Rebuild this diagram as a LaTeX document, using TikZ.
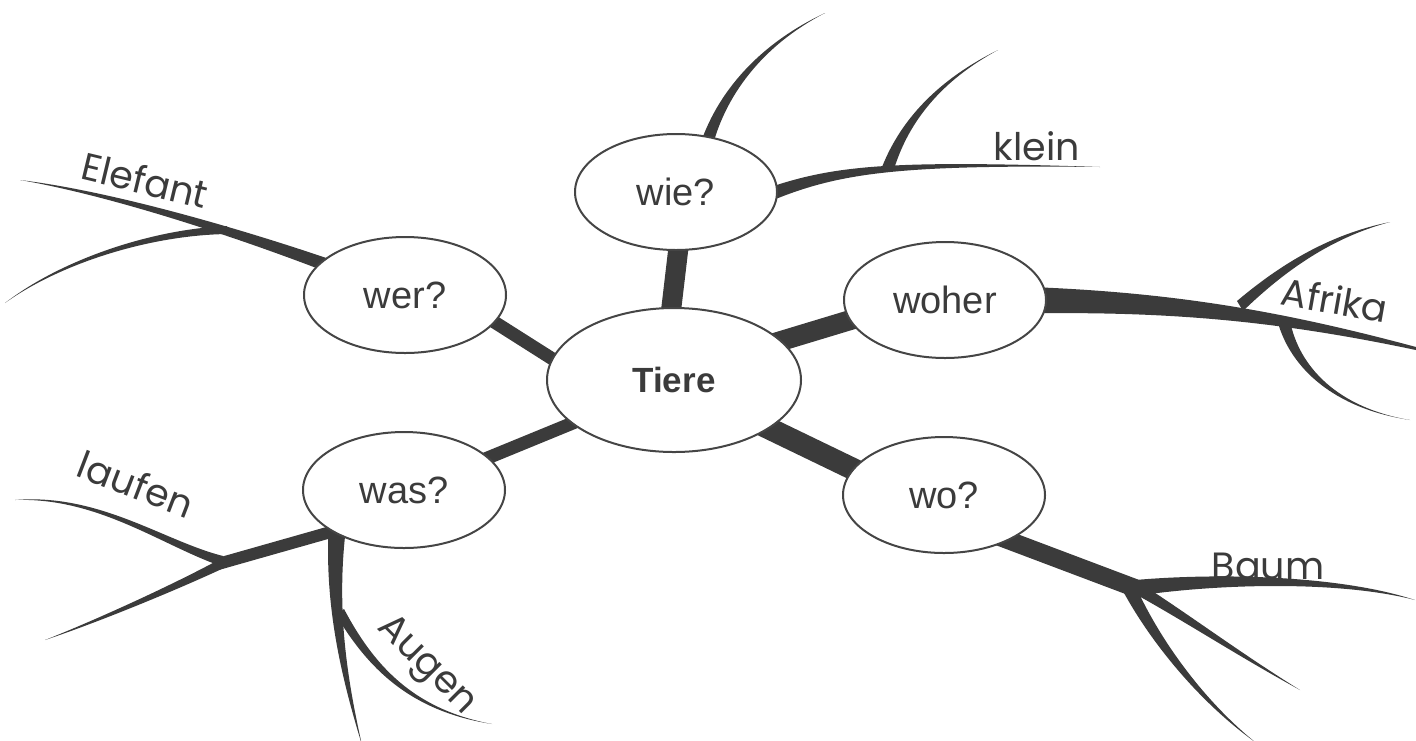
\documentclass[tikz,border=0pt]{standalone}
\usepackage{fontspec}
\setmainfont{Liberation Sans}
\newfontfamily\handfont{Poppins}
\usetikzlibrary{shapes.geometric,backgrounds,calc}
\definecolor{cink}{HTML}{3B3B3B}
\definecolor{cline}{HTML}{454545}
% tapered branch: start, control 1, control 2, tip, half width at start
\newcommand{\twig}[5]{%
  \fill[cink] ($#1+#5$) .. controls ($#2+0.67*#5$) and ($#3+0.33*#5$) .. #4
    .. controls ($#3-0.33*#5$) and ($#2-0.67*#5$) .. ($#1-#5$) -- cycle;}

\begin{document}
\begin{tikzpicture}[x=0.5pt, y=-0.5pt,
  frage/.style={ellipse, draw=cline, line width=1pt, fill=white, minimum width=101pt, minimum height=58pt, inner sep=0pt, text=cink, font=\fontsize{19}{22}\selectfont},
  stem/.style={draw=cink, shorten <=-6pt, shorten >=-6pt},
  wort/.style={text=cink, inner sep=0pt, font=\handfont\fontsize{19}{22}\selectfont}]
  \useasboundingbox (0,0) rectangle (1416,740);
  \node[frage, minimum width=127pt, minimum height=72pt, font=\bfseries\fontsize{17.5}{20}\selectfont] (tiere) at (674,380) {Tiere};
  \foreach \n/\t/\x/\y in {wer/wer?/405/295, wie/wie?/676/192, woher/woher/945/300, was/was?/404/490, wo/wo?/944/495}
    {\node[frage] (\n) at (\x,\y) {\t};}
  % labels along the branches
  \node[wort, rotate=-13.5] (elefant) at (145,180) {Elefant};
  \node[wort, rotate=-21] (laufen) at (136,484) {laufen};
  \node[wort, rotate=-45] (augen) at (426,666) {Augen};
  \node[wort] (klein) at (1037,146) {klein};
  \node[wort, rotate=-10] (afrika) at (1335,300) {Afrika};
  \node[wort] (baum) at (1268,566) {Baum};
  \coordinate (werJ) at (228,230);
  \coordinate (wasJ) at (225,562);
  \coordinate (wasB) at (338,520);
  \coordinate (wieB) at (705,150);
  \coordinate (wieR) at (755,200);
  \coordinate (kleinJ) at (888,168);
  \coordinate (woherB) at (1000,300);
  \coordinate (afrJ) at (1240,306);
  \coordinate (woJ) at (1135,588);
  \begin{scope}[on background layer]
    \foreach \a/\b/\c/\w in {170.6/wer/-17/6.5, 92/wie/-88/10, 20.7/woher/192/10, -27/wo/164.8/11, 203/was/21.6/6.5}
      {\draw[stem, line width=\w pt] (tiere.\a) -- (\b.\c);}
    \draw[stem, line width=6pt] (was.210) -- (wasJ);
    \draw[stem, line width=9pt, shorten >=0pt] (wo.-35) -- (woJ);
    % wer?
    \twig{(wer.center)}{(300,252)}{(130,196)}{(20,180)}{(2.5,-8)}
    \twig{(werJ)}{(150,232)}{(60,262)}{(5,303)}{(1,4)}
    % was?
    \twig{(wasJ)}{(165,545)}{(100,495)}{(15,500)}{(2,6)}
    \twig{(wasJ)}{(180,585)}{(100,620)}{(45,640)}{(2,4.5)}
    \twig{(wasB)}{(330,600)}{(342,670)}{(362,745)}{(9,0)}
    \twig{(340,612)}{(370,665)}{(410,710)}{(492,724)}{(4,-3)}
    % wie?
    \twig{(wieB)}{(720,95)}{(760,45)}{(825,13)}{(6,2)}
    \twig{(wieR)}{(830,170)}{(880,162)}{(1100,167)}{(1.5,7)}
    \twig{(kleinJ)}{(905,120)}{(940,80)}{(998,50)}{(6,1)}
    % woher
    \twig{(woherB)}{(1180,300)}{(1300,318)}{(1470,362)}{(0,14)}
    \twig{(afrJ)}{(1282,268)}{(1330,236)}{(1390,222)}{(3,5)}
    \twig{(1284,322)}{(1295,367)}{(1335,408)}{(1410,420)}{(6,-1)}
    % wo?
    \twig{(woJ)}{(1220,578)}{(1340,578)}{(1415,600)}{(0,8)}
    \twig{(1140,590)}{(1190,620)}{(1240,655)}{(1300,690)}{(3,-5)}
    \twig{(1130,590)}{(1155,640)}{(1200,700)}{(1255,742)}{(6,-3)}
  \end{scope}
\end{tikzpicture}
\end{document}
